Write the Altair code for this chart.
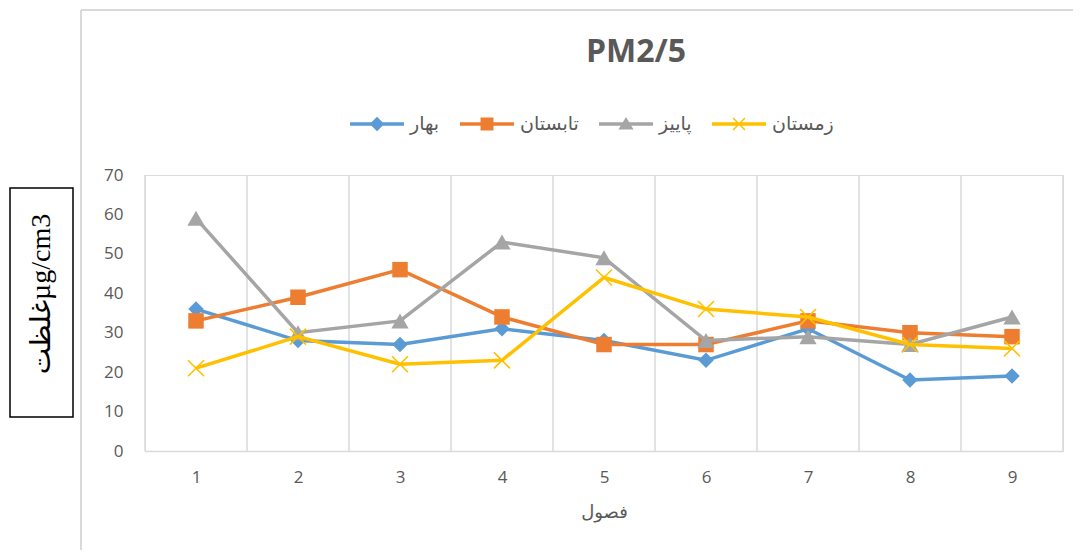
import altair as alt
import pandas as pd

# ---- data ----
categories = [1, 2, 3, 4, 5, 6, 7, 8, 9]
series_names = ["بهار", "تابستان", "پاییز", "زمستان"]
bahar = [36, 28, 27, 31, 28, 23, 31, 18, 19]
tabestan = [33, 39, 46, 34, 27, 27, 33, 30, 29]
paeez = [59, 30, 33, 53, 49, 28, 29, 27, 34]
zemestan = [21, 29, 22, 23, 44, 36, 34, 27, 26]
y_ticks = [0, 10, 20, 30, 40, 50, 60, 70]
grid_edges = [0.5, 1.5, 2.5, 3.5, 4.5, 5.5, 6.5, 7.5, 8.5, 9.5]

colors = ["#5B9BD5", "#ED7D31", "#A5A5A5", "#FFC000"]
X_PATH = "M-1,-1L1,1M-1,1L1,-1"
marker_shapes = ["diamond", "square", "triangle-up", X_PATH]
LINE = "M-1,-0.065H1V0.065H-1Z"
legend_paths = [
    LINE + "M-0.27,0L0,-0.27L0.27,0L0,0.27Z",
    LINE + "M-0.24,-0.24H0.24V0.24H-0.24Z",
    LINE + "M0,-0.26L0.28,0.2L-0.28,0.2Z",
    LINE + "M-0.2,-0.24L0.24,0.2L0.2,0.24L-0.24,-0.2Z"
         + "M-0.24,0.2L0.2,-0.24L0.24,-0.2L-0.2,0.24Z",
]

all_values = [bahar, tabestan, paeez, zemestan]
rows = []
for name, vals in zip(series_names, all_values):
    for c, v in zip(categories, vals):
        rows.append({"cat": c, "value": v, "series": name})
df = pd.DataFrame(rows)
grid_df = pd.DataFrame({"edge": grid_edges})

W, H = 918, 276
GREY_TXT = "#595959"
FONT = "Open Sans"

x_scale = alt.Scale(domain=[0.5, 9.5], nice=False, zero=False)
y_scale = alt.Scale(domain=[0, 70], nice=False, zero=True)
x_axis = alt.Axis(values=categories, format="d", title="فصول", titleFontWeight="normal",
                  titleFontSize=18, titleColor=GREY_TXT, titleFont="Open Sans, DejaVu Sans",
                  titlePadding=18, domainColor="#d9d9d9", domainWidth=1.5, ticks=False,
                  grid=False, labelFontSize=17, labelPadding=18, labelColor=GREY_TXT,
                  labelFont=FONT)
y_axis = alt.Axis(values=y_ticks, title=None, domain=False, ticks=False, grid=False,
                  labelFontSize=17, labelColor=GREY_TXT, labelPadding=22, labelFont=FONT)

X = alt.X("cat:Q", scale=x_scale, axis=x_axis)
Y = alt.Y("value:Q", scale=y_scale, axis=y_axis)

layers = []

# vertical gridlines at category boundaries
layers.append(
    alt.Chart(grid_df).mark_rule(color="#d9d9d9", strokeWidth=1.5).encode(
        x=alt.X("edge:Q", scale=x_scale, axis=x_axis),
        y=alt.value(0), y2=alt.value(H)
    )
)

# series, in Excel drawing order
for i, name in enumerate(series_names):
    base = alt.Chart(df).transform_filter(alt.datum.series == name)
    layers.append(base.mark_line(color=colors[i], strokeWidth=3.5).encode(x=X, y=Y))
    if marker_shapes[i] == X_PATH:
        pt = base.mark_point(shape=X_PATH, filled=False, size=256, strokeWidth=1.6,
                             color=colors[i], opacity=1)
    else:
        size = {"diamond": 240, "square": 240, "triangle-up": 300}[marker_shapes[i]]
        pt = base.mark_point(shape=marker_shapes[i], filled=True, size=size,
                             color=colors[i], opacity=1)
    layers.append(pt.encode(x=X, y=Y))

# legend layer (no visible marks; legend built from explicit domains)
leg = alt.Legend(
    title=None, orient="none", legendX=205, legendY=-78, direction="horizontal",
    symbolSize=2916, labelFontSize=19, labelColor=GREY_TXT, symbolOpacity=1,
    symbolStrokeWidth=0,
    labelFont="Open Sans, DejaVu Sans", labelOffset=6, columnPadding=20,
)
layers.append(
    alt.Chart(df).transform_filter("datum.value > 1000").mark_point(filled=True).encode(
        x=X, y=Y,
        color=alt.Color("series:N", scale=alt.Scale(domain=series_names, range=colors), legend=leg),
        shape=alt.Shape("series:N", scale=alt.Scale(domain=series_names, range=legend_paths), legend=leg),
    )
)

# chart-area frame (left and top edges)
frame_df = pd.DataFrame({"k": [0]})
layers.append(alt.Chart(frame_df).mark_rule(color="#d9d9d9", strokeWidth=2).encode(
    x=alt.value(-64), y=alt.value(-165), y2=alt.value(H + 120)))
layers.append(alt.Chart(frame_df).mark_rule(color="#d9d9d9", strokeWidth=2).encode(
    x=alt.value(-64), x2=alt.value(W + 40), y=alt.value(-165)))

# boxed y-axis label
layers.append(alt.Chart(frame_df).mark_rect(fill="white", stroke="black", strokeWidth=1.5).encode(
    x=alt.value(-135), x2=alt.value(-72), y=alt.value(13), y2=alt.value(242)))
layers.append(alt.Chart(pd.DataFrame({"t": ["غلظتµg/cm3"]})).mark_text(
    angle=270, font="Liberation Serif, DejaVu Sans", fontSize=28, color="black",
    align="center", baseline="middle").encode(
    text="t:N", x=alt.value(-103), y=alt.value(119)))

chart = alt.layer(*layers).properties(
    width=W, height=H,
    title=alt.Title("PM2/5", fontSize=32, fontWeight="bold", color=GREY_TXT, font=FONT,
                    anchor="middle", dx=32, dy=70, offset=10),
    autosize="none",
    padding={"left": 137, "top": 167, "right": 10, "bottom": 99},
).configure_view(stroke=None).configure(background="white")

chart.save("out.html", embed_options={"renderer": "svg", "actions": False})
